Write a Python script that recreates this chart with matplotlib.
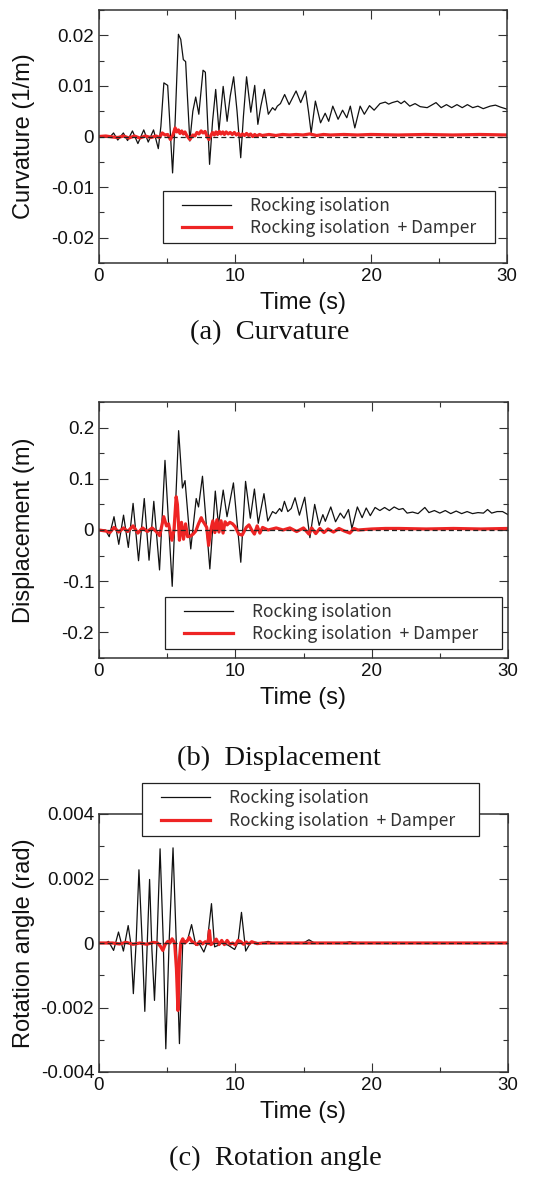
import matplotlib
matplotlib.use("Agg")
import matplotlib.pyplot as plt
from matplotlib.patches import Rectangle
from matplotlib.ticker import MultipleLocator

# ---------------- data ----------------
series_labels = ["Rocking isolation", "Rocking isolation  + Damper"]
x_ticks = [0, 10, 20, 30]
x_tick_labels = ["0", "10", "20", "30"]

# (a) Curvature (1/m)
curv_t_black = [0, 0.5, 0.8, 1.07, 1.38, 1.79, 2.1, 2.46, 2.86, 3.29, 3.62, 4.01, 4.36, 4.55, 4.77, 5.05,
                5.2, 5.41, 5.6, 5.84, 6.01, 6.2, 6.37, 6.5, 6.68, 6.9, 7.11, 7.34, 7.65, 7.82, 7.95, 8.13,
                8.35, 8.58, 8.82, 9.13, 9.42, 9.65, 9.9, 10.15, 10.42, 10.62, 10.85, 11.16, 11.45, 11.68,
                11.9, 12.16, 12.45, 12.76, 12.95, 13.11, 13.34, 13.65, 13.98, 14.49, 14.83, 15.19, 15.4,
                15.6, 15.91, 16.29, 16.63, 16.89, 17.19, 17.58, 17.91, 18.22, 18.48, 18.81, 19.2, 19.51,
                19.89, 20.23, 20.66, 21.05, 21.3, 21.56, 21.95, 22.21, 22.46, 22.85, 23.24, 23.62, 24.13,
                24.78, 25.16, 25.55, 25.93, 26.32, 26.71, 27.09, 27.48, 27.86, 28.25, 28.76, 29.15, 29.53,
                30.0]
curv_v_black = [0, 0.0001, -0.0001, 0.0007, -0.0007, 0.0007, -0.0008, 0.0011, -0.0014, 0.0013, -0.0011,
                0.0013, -0.0024, 0.002, 0.0106, 0.0101, 0.003, -0.0072, 0.003, 0.0202, 0.0192, 0.0152,
                0.0148, 0.008, -0.0009, 0.005, 0.0078, 0.0044, 0.0131, 0.0127, 0.005, -0.0055, 0.003,
                0.0093, 0.0011, 0.0099, 0.003, 0.008, 0.0118, 0.005, -0.0042, 0.004, 0.0118, 0.0048,
                0.0101, 0.0024, 0.006, 0.0093, 0.0044, 0.0057, 0.0052, 0.006, 0.0065, 0.0083, 0.0063,
                0.009, 0.0067, 0.009, 0.005, 0.0007, 0.007, 0.0027, 0.0046, 0.003, 0.006, 0.0034, 0.0052,
                0.0037, 0.006, 0.0017, 0.006, 0.0044, 0.0061, 0.0052, 0.0065, 0.0068, 0.0064, 0.0067,
                0.007, 0.0065, 0.007, 0.006, 0.0065, 0.0059, 0.0057, 0.0067, 0.0057, 0.0063, 0.0057,
                0.0063, 0.0057, 0.0063, 0.0057, 0.006, 0.0055, 0.006, 0.0062, 0.0058, 0.0054]
curv_t_red = [0, 0.5, 1.0, 1.4, 1.8, 2.2, 2.6, 3.0, 3.4, 3.8, 4.2, 4.45, 4.65, 4.85, 5.05, 5.25, 5.42,
              5.6, 5.72, 5.84, 5.95, 6.08, 6.2, 6.32, 6.45, 6.68, 6.9, 7.05, 7.2, 7.35, 7.51, 7.65, 7.8,
              7.95, 8.08, 8.22, 8.35, 8.48, 8.6, 8.72, 8.85, 8.97, 9.1, 9.22, 9.35, 9.5, 9.65, 9.8, 9.95,
              10.1, 10.25, 10.4, 10.55, 10.7, 10.85, 11.0, 11.15, 11.3, 11.45, 11.6, 11.8, 12.0, 12.5,
              13, 13.5, 14, 14.5, 15, 15.5, 16, 16.5, 17, 18, 19, 20, 22, 24, 26, 28, 30]
curv_v_red = [0, 0.0001, -0.0001, -0.0002, 0.0001, -0.0003, 0.0001, -0.0003, 0.0001, -0.0002, 0.0001,
              -0.0002, 0.0007, 0.0003, 0.0004, -0.0006, 0.0002, 0.0017, 0.0009, 0.0013, 0.0006, 0.0011,
              0.0005, 0.0009, 0.0002, -0.0006, 0.0003, 0.0001, 0.0008, 0.0005, 0.0011, 0.0007, 0.001,
              0.0, -0.0006, 0.0002, 0.0008, 0.0003, 0.0009, 0.0004, 0.001, 0.0005, 0.0009, 0.0004,
              0.0009, 0.0005, 0.0008, 0.0004, 0.0008, 0.0003, 0.0006, 0.0001, 0.0005, 0.0002, 0.0006,
              0.0002, 0.0005, 0.0, 0.0004, 0.0001, 0.0004, 0.0002, 0.0004, 0.0002, 0.0004, 0.0003,
              0.0004, 0.0003, 0.0005, 0.0002, 0.0004, 0.0003, 0.0004, 0.0003, 0.0004, 0.0003, 0.0004,
              0.0003, 0.0004, 0.0003]
curv_ticks = [-0.02, -0.01, 0, 0.01, 0.02]
curv_tick_labels = ["-0.02", "-0.01", "0", "0.01", "0.02"]

# (b) Displacement (m)
disp_t_black = [0, 0.47, 0.75, 1.1, 1.45, 1.8, 2.15, 2.5, 2.9, 3.32, 3.67, 4.02, 4.44, 4.84, 5.37, 5.84,
                6.12, 6.31, 6.73, 7.13, 7.3, 7.59, 8.13, 8.53, 8.76, 9.11, 9.39, 9.86, 10.4, 10.75, 11.1,
                11.4, 11.68, 12.1, 12.38, 12.73, 12.97, 13.25, 13.4, 13.6, 13.85, 14.1, 14.38, 14.7,
                15.09, 15.47, 15.82, 16.15, 16.42, 16.6, 17.0, 17.35, 17.7, 17.97, 18.3, 18.55, 18.95,
                19.3, 19.6, 19.9, 20.25, 20.6, 20.95, 21.3, 21.65, 22.0, 22.3, 22.6, 23.0, 23.4, 23.9,
                24.2, 24.6, 25.0, 25.4, 25.8, 26.2, 26.6, 27.0, 27.4, 27.8, 28.2, 28.5, 28.8, 29.2, 29.6,
                30.0]
disp_v_black = [0, 0.0, -0.013, 0.026, -0.028, 0.029, -0.034, 0.052, -0.06, 0.0615, -0.059, 0.056,
                -0.078, 0.136, -0.11, 0.194, 0.082, 0.0965, -0.037, 0.0615, 0.045, 0.105, -0.076, 0.076,
                0.01, 0.078, 0.026, 0.092, -0.063, 0.095, 0.023, 0.08, 0.013, 0.071, 0.0175, 0.036,
                0.032, 0.042, 0.036, 0.056, 0.036, 0.042, 0.063, 0.029, 0.064, -0.015, 0.05, 0.009,
                0.03, 0.017, 0.045, 0.016, 0.033, 0.023, 0.04, 0.003, 0.045, 0.024, 0.043, 0.028, 0.044,
                0.038, 0.044, 0.038, 0.045, 0.04, 0.042, 0.033, 0.035, 0.032, 0.044, 0.034, 0.038, 0.033,
                0.038, 0.032, 0.037, 0.032, 0.036, 0.032, 0.034, 0.033, 0.04, 0.033, 0.036, 0.036, 0.03]
disp_t_red = [0, 0.5, 0.8, 1.1, 1.45, 1.8, 2.1, 2.5, 2.85, 3.2, 3.55, 3.9, 4.2, 4.45, 4.75, 4.95, 5.1,
              5.35, 5.5, 5.66, 5.75, 5.9, 6.05, 6.2, 6.35, 6.5, 6.7, 6.9, 7.1, 7.3, 7.5, 7.6, 7.75, 7.9,
              8.04, 8.2, 8.35, 8.5, 8.65, 8.8, 8.95, 9.1, 9.25, 9.4, 9.6, 9.8, 10.0, 10.25, 10.5, 10.8,
              11.0, 11.2, 11.4, 11.6, 11.8, 12.0, 12.4, 13.0, 13.5, 14.0, 14.5, 15.0, 15.4, 15.6, 15.9,
              16.2, 16.5, 16.8, 17.2, 17.6, 18.0, 18.4, 18.7, 19.0, 20, 21, 22, 24, 26, 28, 30]
disp_v_red = [0, -0.002, -0.005, 0.005, -0.004, 0.004, -0.003, 0.008, -0.006, 0.004, -0.003, 0.004,
              -0.003, -0.011, 0.026, 0.008, 0.012, -0.02, 0.0, 0.065, 0.05, -0.02, 0.015, -0.018, 0.012,
              -0.013, -0.012, -0.008, -0.002, 0.012, 0.024, 0.018, 0.012, 0.005, -0.03, 0.0, 0.018,
              -0.005, 0.02, -0.004, 0.018, -0.006, 0.016, 0.01, 0.015, 0.012, 0.006, -0.008, -0.01,
              0.005, 0.01, 0.0, -0.008, 0.008, -0.006, 0.005, 0.0, 0.004, 0.0, 0.004, -0.003, 0.004,
              -0.008, 0.004, -0.007, 0.003, -0.005, 0.002, -0.004, 0.003, -0.002, -0.006, 0.003, 0.0,
              0.002, 0.003, 0.003, 0.002, 0.003, 0.002, 0.003]
disp_ticks = [-0.2, -0.1, 0, 0.1, 0.2]
disp_tick_labels = ["-0.2", "-0.1", "0", "0.1", "0.2"]

# (c) Rotation angle (rad)
rot_t_black = [0, 0.5, 0.7, 1.07, 1.43, 1.79, 2.14, 2.33, 2.52, 2.72, 2.93, 3.17, 3.36, 3.54, 3.71, 3.88,
               4.07, 4.25, 4.48, 4.71, 4.9, 5.14, 5.43, 5.67, 5.9, 6.14, 6.5, 6.79, 7.1, 7.38, 7.69, 7.93,
               8.25, 8.48, 8.76, 9.0, 9.48, 9.95, 10.2, 10.45, 10.76, 11.1, 11.5, 12.0, 12.4, 12.8, 15.0,
               15.4, 15.8, 18.0, 18.4, 18.8, 30.0]
rot_v_black = [0, 0.0, 0.00005, -0.00023, 0.00034, -0.00025, 0.00054, 0.0, -0.00157, 0.0, 0.00227, 0.0,
               -0.00212, 0.0, 0.00197, -0.0002, -0.00178, 0.0, 0.00292, 0.0001, -0.00328, 0.0, 0.00295,
               0.0, -0.00312, 0.0, 0.0001, 0.00057, -0.00007, -0.00004, -0.00028, 0.0, 0.00122,
               -0.00012, -0.00007, 0.0, -0.00007, -0.0002, 0.00003, 0.00095, -0.00025, 0.0, 0.00002,
               0.0, 0.00005, 0.0, 0.0, 0.0001, 0.0, 0.0, 0.00004, 0.0, 0.0]
rot_t_red = [0, 1.0, 1.5, 2.0, 2.5, 3.0, 3.5, 4.0, 4.3, 4.5, 4.68, 4.85, 5.05, 5.2, 5.36, 5.55, 5.68,
             5.79, 5.9, 6.0, 6.14, 6.3, 6.5, 6.62, 6.8, 7.0, 7.2, 7.4, 7.6, 7.8, 8.0, 8.1, 8.2, 8.4, 8.6,
             8.8, 9.0, 9.2, 9.4, 9.6, 9.8, 10.0, 10.2, 10.4, 10.6, 10.8, 11.0, 11.2, 11.6, 12.0, 30.0]
rot_v_red = [0, 0.0, -0.00003, 0.00002, -0.00004, 0.0, -0.00004, 0.00002, 0.0, -0.0001, -0.00023,
             -0.00005, 0.00005, 0.0, 0.00013, 0.0, -0.0008, -0.00209, -0.0005, 0.0, 0.00013, 0.0,
             0.00008, 0.00017, 0.00005, 0.0, -0.00005, 0.00005, -0.00003, 0.00004, -0.00002, 0.00039,
             -0.00005, 0.0, 0.00012, -0.00005, 0.00008, -0.00005, 0.00008, -0.00004, 0.0, -0.00006,
             0.00008, 0.00004, -0.00004, 0.00003, -0.00003, 0.00004, -0.00002, 0.0, 0.0]
rot_ticks = [-0.004, -0.002, 0, 0.002, 0.004]
rot_tick_labels = ["-0.004", "-0.002", "0", "0.002", "0.004"]

# ---------------- layout / style ----------------
W, H = 540, 1188
fig = plt.figure(figsize=(W / 100, H / 100), dpi=100)

SANS = "Liberation Sans"
LEG_FONT = ["Noto Sans CJK JP", "DejaVu Sans"]
SERIF = "Liberation Serif"
BLACK = "#111111"
RED = "#ee2424"
SPINE = "#333333"


def fx(px):
    return px / W


def fy(py):
    return 1 - py / H


panels = [
    dict(tb=curv_t_black, vb=curv_v_black, tr=curv_t_red, vr=curv_v_red, yt=curv_ticks,
         ytl=curv_tick_labels, ylim=(-0.025, 0.025), yminor=0.005, ylabel="Curvature (1/m)",
         box=(99, 507, 10, 263), leg=(163, 495, 191, 243), cap="(a)  Curvature", cap_xy=(270, 333)),
    dict(tb=disp_t_black, vb=disp_v_black, tr=disp_t_red, vr=disp_v_red, yt=disp_ticks,
         ytl=disp_tick_labels, ylim=(-0.25, 0.25), yminor=0.05, ylabel="Displacement (m)",
         box=(99, 508, 402, 658), leg=(165, 502, 597, 649), cap="(b)  Displacement", cap_xy=(279, 758)),
    dict(tb=rot_t_black, vb=rot_v_black, tr=rot_t_red, vr=rot_v_red, yt=rot_ticks,
         ytl=rot_tick_labels, ylim=(-0.004, 0.004), yminor=0.001, ylabel="Rotation angle (rad)",
         box=(99, 508, 814, 1072), leg=(142, 479, 783, 836), cap="(c)  Rotation angle", cap_xy=(275, 1158)),
]

for p in panels:
    x0, x1, y0, y1 = p["box"]
    ax = fig.add_axes([fx(x0), fy(y1), (x1 - x0) / W, (y1 - y0) / H])
    lb, = ax.plot(p["tb"], p["vb"], color=BLACK, lw=0.9, zorder=2, label=series_labels[0])
    lr, = ax.plot(p["tr"], p["vr"], color=RED, lw=2.3, zorder=2.2, label=series_labels[1])
    ax.axhline(0, color="#222222", lw=0.9, ls=(0, (4, 2.5)), zorder=2.4)

    ax.set_xlim(0, 30)
    ax.set_ylim(*p["ylim"])
    ax.set_xticks(x_ticks)
    ax.set_xticklabels(x_tick_labels, fontfamily=SANS, fontsize=13.5)
    ax.set_yticks(p["yt"])
    ax.set_yticklabels(p["ytl"], fontfamily=SANS, fontsize=13.5)
    ax.xaxis.set_minor_locator(MultipleLocator(5))
    ax.yaxis.set_minor_locator(MultipleLocator(p["yminor"]))
    ax.tick_params(which="both", direction="in", top=True, right=True, color=SPINE, width=0.8,
                   labelcolor="#111111")
    ax.tick_params(which="major", length=6.2, pad=3.5)
    ax.tick_params(which="minor", length=3.6)
    for s in ax.spines.values():
        s.set_color(SPINE)
        s.set_linewidth(1.1)

    ax.set_xlabel("Time (s)", fontfamily=SANS, fontsize=17, color="#111111")
    ax.xaxis.label.set_va("center")
    ax.xaxis.set_label_coords(0.5, -(40 / (y1 - y0)))
    ax.set_ylabel(p["ylabel"], fontfamily=SANS, fontsize=17, color="#111111")
    ax.yaxis.label.set_va("center")
    ax.yaxis.set_label_coords(-(x0 - 24) / (x1 - x0), 0.5)

    # legend box
    lx0, lx1, ly0, ly1 = p["leg"]
    rect = Rectangle((fx(lx0), fy(ly1)), (lx1 - lx0) / W, (ly1 - ly0) / H, transform=fig.transFigure,
                     facecolor="white", edgecolor="#222222", linewidth=0.9, zorder=4.9, clip_on=False)
    ax.add_patch(rect)
    fs_pt = 12.5
    fs_px = fs_pt * 100 / 72
    leg = ax.legend(handles=[lb, lr], loc="center left",
                    bbox_to_anchor=(fx(lx0 + 19), fy((ly0 + ly1) / 2)), bbox_transform=fig.transFigure,
                    frameon=False, borderpad=0, borderaxespad=0, handlelength=49 / fs_px,
                    handletextpad=19 / fs_px, labelspacing=0.25,
                    prop={"family": LEG_FONT, "size": fs_pt}, labelcolor="#333333")
    leg.set_zorder(5)

    fig.text(fx(p["cap_xy"][0]), fy(p["cap_xy"][1]), p["cap"], ha="center", va="center",
             fontfamily=SERIF, fontsize=20.5, color="#111111")

fig.savefig("out.png", dpi=100)
